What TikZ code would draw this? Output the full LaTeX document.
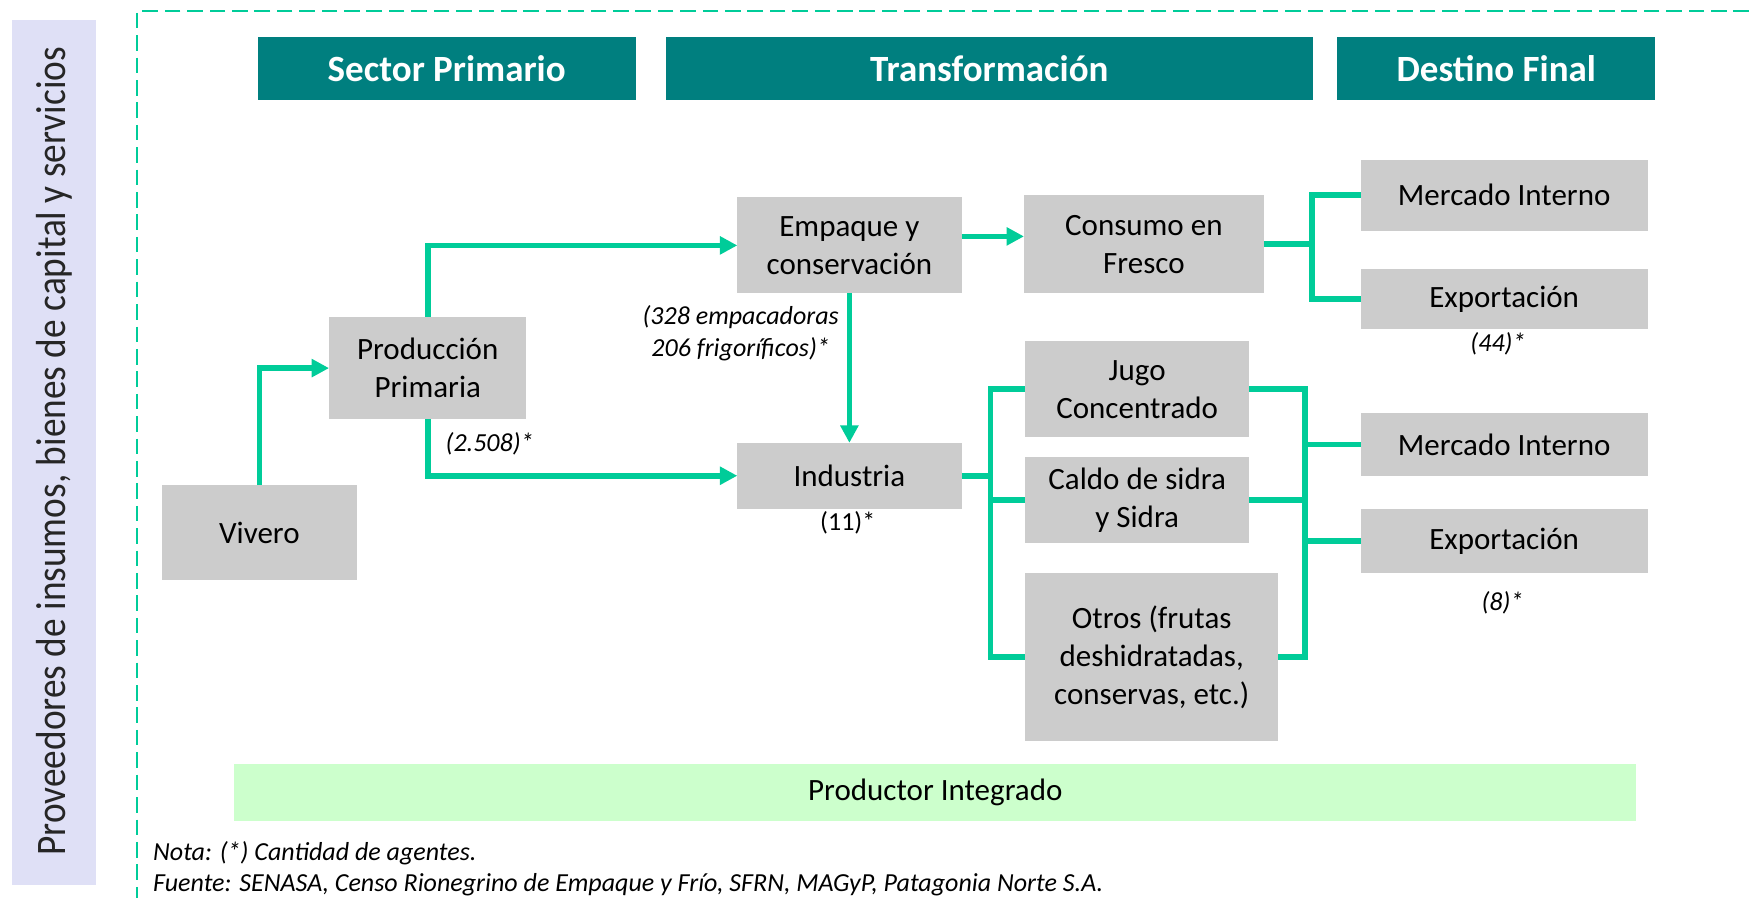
\documentclass[tikz,border=0pt]{standalone}
\usepackage{fontspec}
\setmainfont{Carlito}
\usetikzlibrary{arrows.meta,fit}
\definecolor{tealhdr}{HTML}{007F7F}
\definecolor{lgreen}{HTML}{00CC99}
\definecolor{boxgray}{HTML}{CCCCCC}
\definecolor{lav}{HTML}{DFE0F6}
\definecolor{pint}{HTML}{CCFFCC}
\begin{document}
\begin{tikzpicture}[x=0.5575pt, y=-0.5575pt,
  grbox/.style={fill=boxgray, inner sep=0pt, outer sep=0pt},
  grtxt/.style={inner sep=0pt, align=center, font=\fontsize{15.5}{19}\selectfont},
  hdrbox/.style={fill=tealhdr, inner sep=0pt, outer sep=0pt},
  hdrtxt/.style={inner sep=0pt, text=white, font=\fontsize{18.5}{22}\selectfont\bfseries},
  conn/.style={draw=lgreen, line width=2.8pt, line join=miter},
  arr/.style={conn, -{Triangle[length=8.7pt,width=8.7pt]}},
  lbl/.style={font=\fontsize{13}{16.2}\selectfont\itshape, align=center, inner sep=0pt},
  lblup/.style={font=\fontsize{13}{16.2}\selectfont, align=center, inner sep=0pt},
  dashline/.style={draw=lgreen, line width=0.85pt, dash pattern=on 7.8pt off 3.4pt}]
\useasboundingbox (0,0) rectangle (1568,805);

% left band
\node[fill=lav, inner sep=0pt, outer sep=0pt, fit={(11,18) (86,793)}] (band) {};
\node[rotate=90, inner sep=0pt, text=black!85] (bandtxt) at (49,404.5)
  {\resizebox{404pt}{\height}{\fontsize{21}{25}\selectfont Proveedores de insumos, bienes de capital y servicios}};

% dashed frame
\coordinate (dtr) at (1568,10);
\coordinate (dtl) at (123,10);
\coordinate (dbl) at (123,805);
\draw[dashline] (dtr) -- (dtl) -- (dbl);

% headers
\node[hdrbox, fit={(231,33) (570,90)}] (h1) {};
\node[hdrtxt] (h1t) at (h1) {Sector Primario};
\node[hdrbox, fit={(597,33) (1177,90)}] (h2) {};
\node[hdrtxt] (h2t) at (h2) {Transformación};
\node[hdrbox, fit={(1199,33) (1484,90)}] (h3) {};
\node[hdrtxt] (h3t) at (h3) {Destino Final};

% boxes
\node[grbox, fit={(145,435) (320,520)}] (viv) {};
\node[grtxt] (vivt) at (viv) {Vivero};
\node[grbox, fit={(295,284) (472,376)}] (prod) {};
\node[grtxt] (prodt) at (prod) {Producción\\Primaria};
\node[grbox, fit={(661,177) (862,263)}] (emp) {};
\node[grtxt] (empt) at (emp) {Empaque y\\conservación};
\node[grbox, fit={(661,397) (862,456)}] (ind) {};
\node[grtxt] (indt) at (ind) {Industria};
\node[grbox, fit={(918,175) (1133,263)}] (cons) {};
\node[grtxt] (const) at (cons) {Consumo en\\Fresco};
\node[grbox, fit={(1220,143) (1477,207)}] (mi1) {};
\node[grtxt] (mi1t) at (mi1) {Mercado Interno};
\node[grbox, fit={(1220,241) (1477,295)}] (ex1) {};
\node[grtxt] (ex1t) at (ex1) {Exportación};
\node[grbox, fit={(919,306) (1120,392)}] (jugo) {};
\node[grtxt] (jugot) at (jugo) {Jugo\\Concentrado};
\node[grbox, fit={(919,410) (1120,487)}] (caldo) {};
\node[grtxt] (caldot) at (caldo) {Caldo de sidra\\y Sidra};
\node[grbox, fit={(919,514) (1146,664)}] (otros) {};
\node[grtxt] (otrost) at (otros) {Otros (frutas\\deshidratadas,\\conservas, etc.)};
\node[grbox, fit={(1220,370) (1477,427)}] (mi2) {};
\node[grtxt] (mi2t) at (mi2) {Mercado Interno};
\node[grbox, fit={(1220,456) (1477,514)}] (ex2) {};
\node[grtxt] (ex2t) at (ex2) {Exportación};

% productor integrado
\node[fill=pint, inner sep=0pt, outer sep=0pt, fit={(210,685) (1467,736)}] (pint) {};
\node[grtxt] (pintt) at (pint) {Productor Integrado};

% labels
\node[lbl] (l328) at (664,299) {(328 empacadoras\\206 frigoríficos)*};
\node[lbl] (l2508) at (439,398) {(2.508)*};
\node[lblup] (l11) at (760,469) {(11)*};
\node[lbl] (l44) at (1343,308) {(44)*};
\node[lbl] (l8) at (1347,540) {(8)*};

% notes
\node[lbl, anchor=west] (nota) at (137,765) {Nota: (*) Cantidad de agentes.};
\node[lbl, anchor=west] (fuente) at (137,793) {Fuente: SENASA, Censo Rionegrino de Empaque y Frío, SFRN, MAGyP, Patagonia Norte S.A.};

% connectors
\draw[arr] (viv.north) |- (prod.west);
\draw[arr] (prod.north) |- (emp.west);
\draw[arr] (prod.south) |- (ind.west);
\draw[arr] (emp.south) -- (ind.north);
\draw[arr] ([yshift=4.5pt]emp.east) -- ([yshift=4.5pt]emp.east -| cons.west);

\coordinate (j1) at (1176,219);
\draw[conn] (cons.east) -- (cons.east -| j1);
\draw[conn] (mi1.west) -| (j1) |- (ex1.west);

\coordinate (j2) at (888,427);
\draw[conn] (ind.east) -- (ind.east -| j2);
\draw[conn] (jugo.west) -| (j2) |- (otros.west);
\draw[conn] (caldo.west) -- (caldo.west -| j2);

\coordinate (j3) at (1170,349);
\draw[conn] (jugo.east) -- (jugo.east -| j3) -- (otros.east -| j3) -- (otros.east);
\draw[conn] (caldo.east) -- (caldo.east -| j3);
\draw[conn] (j3 |- mi2.west) -- (mi2.west);
\draw[conn] (j3 |- ex2.west) -- (ex2.west);
\end{tikzpicture}
\end{document}
